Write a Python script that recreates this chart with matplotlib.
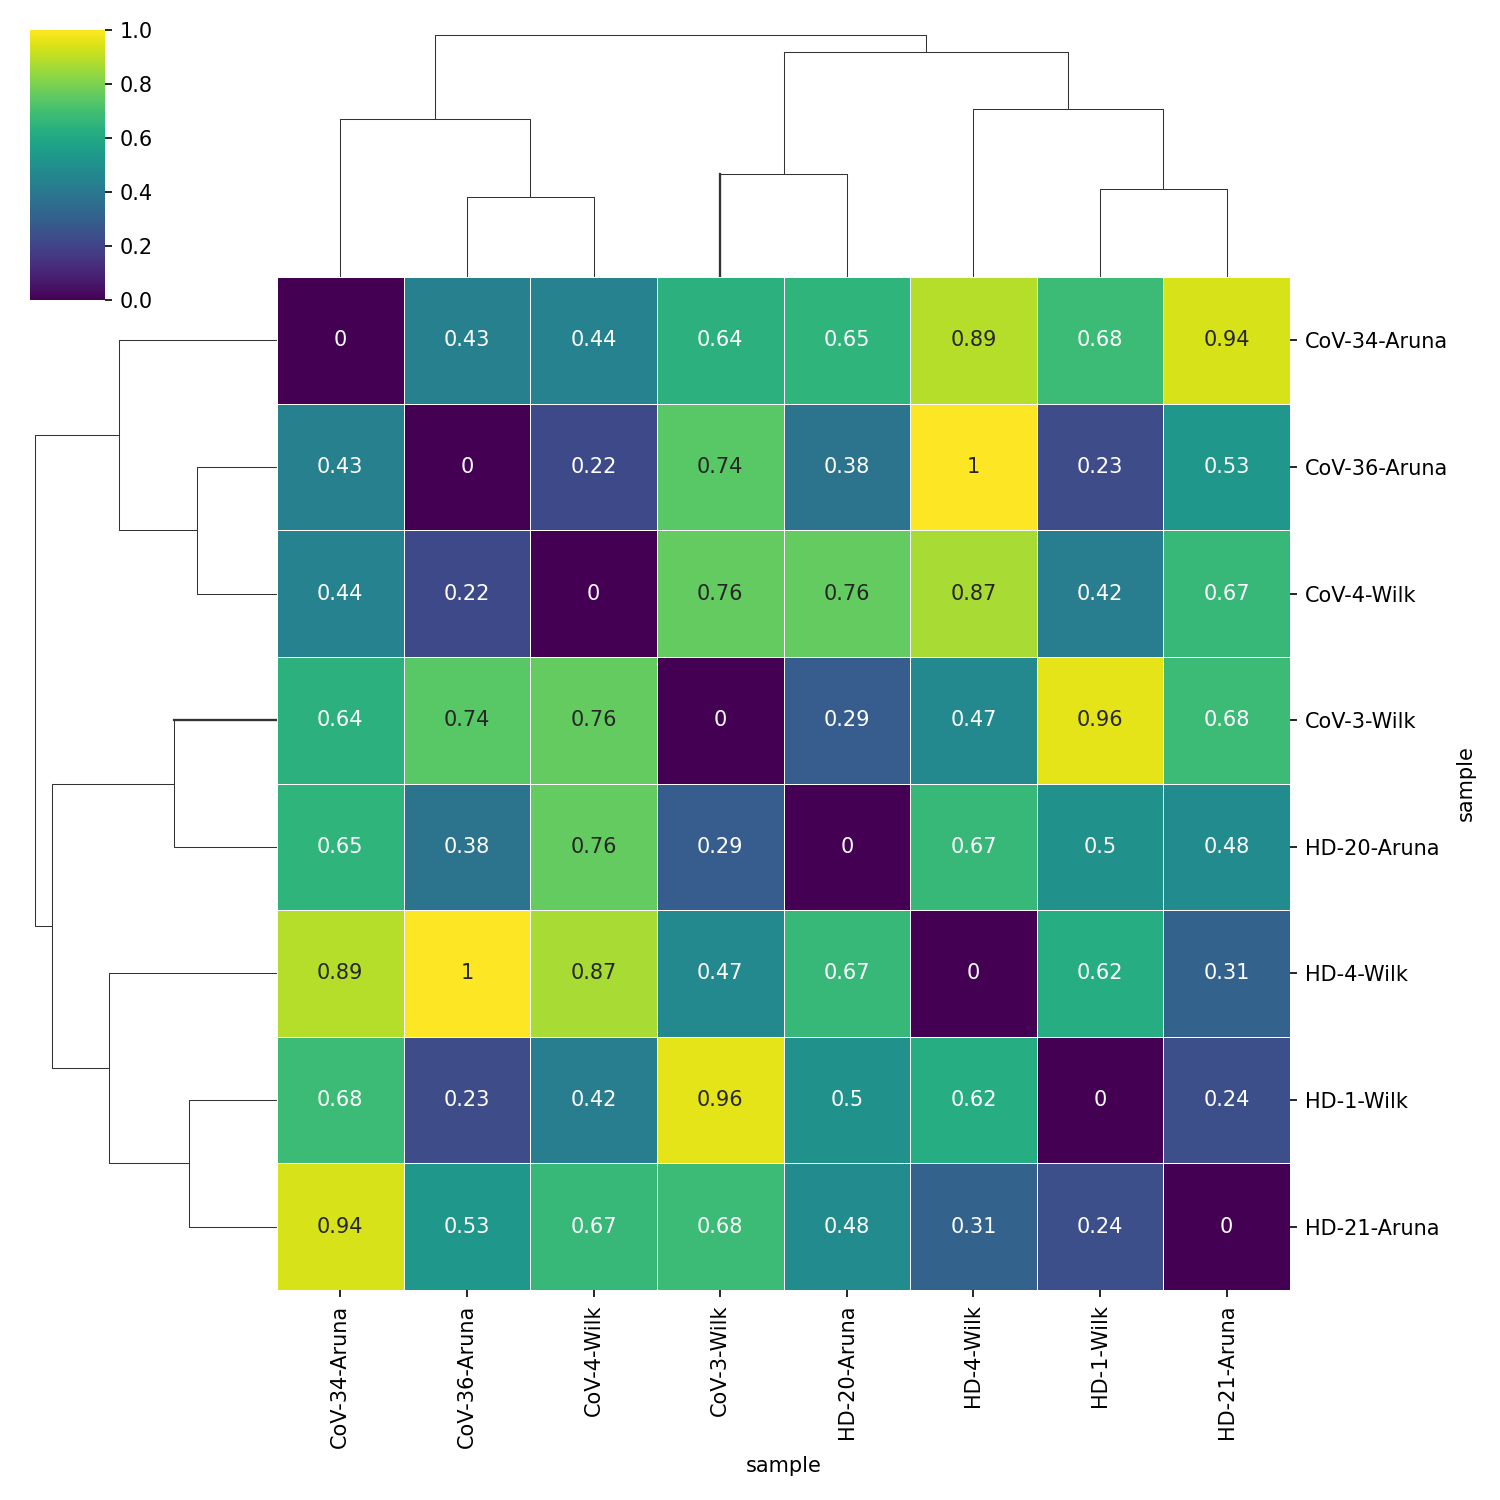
import numpy as np
import matplotlib
matplotlib.use("Agg")
import matplotlib.pyplot as plt
from matplotlib.collections import LineCollection

samples = ["CoV-34-Aruna", "CoV-36-Aruna", "CoV-4-Wilk", "CoV-3-Wilk",
           "HD-20-Aruna", "HD-4-Wilk", "HD-1-Wilk", "HD-21-Aruna"]

dist = np.array([
    [0.00, 0.43, 0.44, 0.64, 0.65, 0.89, 0.68, 0.94],
    [0.43, 0.00, 0.22, 0.74, 0.38, 1.00, 0.23, 0.53],
    [0.44, 0.22, 0.00, 0.76, 0.76, 0.87, 0.42, 0.67],
    [0.64, 0.74, 0.76, 0.00, 0.29, 0.47, 0.96, 0.68],
    [0.65, 0.38, 0.76, 0.29, 0.00, 0.67, 0.50, 0.48],
    [0.89, 1.00, 0.87, 0.47, 0.67, 0.00, 0.62, 0.31],
    [0.68, 0.23, 0.42, 0.96, 0.50, 0.62, 0.00, 0.24],
    [0.94, 0.53, 0.67, 0.68, 0.48, 0.31, 0.24, 0.00],
])

# merges: (left node, right node, height); leaves 0..7, new nodes 8..
merges = [
    (1, 2, 0.56),
    (0, 8, 1.106),
    (3, 4, 0.721),
    (6, 7, 0.616),
    (5, 11, 1.176),
    (10, 12, 1.575),
    (9, 13, 1.694),
]


def tree_segments(merges, n):
    pos = {i: 10 * i + 5 for i in range(n)}
    hgt = {i: 0.0 for i in range(n)}
    segs = []
    for k, (a, b, h) in enumerate(merges):
        node = n + k
        segs.append([(pos[a], hgt[a]), (pos[a], h), (pos[b], h), (pos[b], hgt[b])])
        pos[node] = (pos[a] + pos[b]) / 2
        hgt[node] = h
    return segs


segs = tree_segments(merges, len(samples))
hmax = max(m[2] for m in merges)
tree_color = (.2, .2, .2)

fig = plt.figure(figsize=(10, 10), dpi=150)
W = H = 1500.0


def ax_px(x0, y0, x1, y1):
    return fig.add_axes([x0 / W, 1 - y1 / H, (x1 - x0) / W, (y1 - y0) / H])


ax_hm = ax_px(277, 277, 1290, 1290)
ax_col = ax_px(277, 23, 1290, 277)
ax_row = ax_px(23, 277, 277, 1290)
ax_cb = ax_px(30, 30, 105, 300)

# column dendrogram
ax_col.add_collection(LineCollection(segs, colors=[tree_color], linewidths=0.5))
ax_col.plot([35, 35], [0, merges[2][2]], color=tree_color, lw=1.1)
ax_col.set_xlim(0, 10 * len(samples))
ax_col.set_ylim(0, hmax * 1.05)
ax_col.axis("off")

# row dendrogram (rotated)
rsegs = [[(h, x) for x, h in s] for s in segs]
ax_row.add_collection(LineCollection(rsegs, colors=[tree_color], linewidths=0.5))
ax_row.plot([0, merges[2][2]], [35, 35], color=tree_color, lw=1.1)
ax_row.set_ylim(10 * len(samples), 0)
ax_row.set_xlim(hmax * 1.05, 0)
ax_row.axis("off")

# heatmap
cmap = plt.get_cmap("viridis")
mesh = ax_hm.pcolormesh(dist, cmap=cmap, vmin=0, vmax=1,
                        edgecolors="white", linewidth=0.3)
ax_hm.set_xlim(0, len(samples))
ax_hm.set_ylim(len(samples), 0)


def rel_lum(c):
    rgb = np.array(c[:3])
    rgb = np.where(rgb <= .03928, rgb / 12.92, ((rgb + .055) / 1.055) ** 2.4)
    return rgb.dot([.2126, .7152, .0722])


for i in range(len(samples)):
    for j in range(len(samples)):
        v = dist[i, j]
        c = cmap(v)
        tc = ".15" if rel_lum(c) > .408 else "w"
        ax_hm.text(j + 0.5, i + 0.5, format(v, ".2g"), ha="center", va="center",
                   color=tc, fontsize=10)

ax_hm.set_xticks(np.arange(len(samples)) + 0.5)
ax_hm.set_xticklabels(samples, rotation=90, fontsize=10)
ax_hm.set_yticks(np.arange(len(samples)) + 0.5)
ax_hm.set_yticklabels(samples, rotation=0, fontsize=10)
ax_hm.yaxis.tick_right()
ax_hm.yaxis.set_label_position("right")
ax_hm.set_xlabel("sample", fontsize=10)
ax_hm.set_ylabel("sample", fontsize=10)
for sp in ax_hm.spines.values():
    sp.set_visible(False)

cb = fig.colorbar(mesh, cax=ax_cb)
cb.outline.set_visible(False)
cb.set_ticks([0.0, 0.2, 0.4, 0.6, 0.8, 1.0])
cb.ax.tick_params(labelsize=10)

fig.savefig("out.png", dpi=150)
